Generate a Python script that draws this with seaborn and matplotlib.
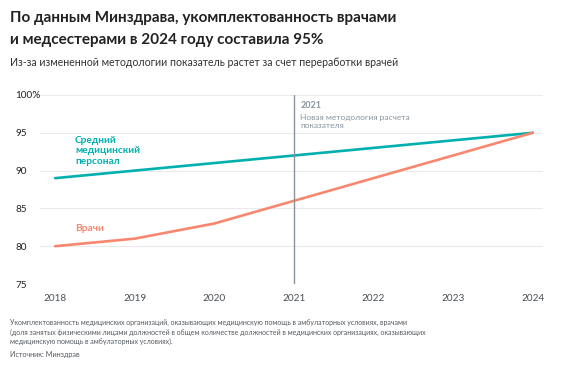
import pandas as pd
import matplotlib.pyplot as plt
import seaborn as sns

years = [2018, 2019, 2020, 2021, 2022, 2023, 2024]
nurses = [89, 90, 91, 92, 93, 94, 95]
doctors = [80, 81, 83, 86, 89, 92, 95]
y_ticks = [75, 80, 85, 90, 95, 100]
y_labels = ["75", "80", "85", "90", "95", "100%"]

df = pd.DataFrame({"year": years * 2,
                   "value": nurses + doctors,
                   "group": ["nurses"] * len(years) + ["doctors"] * len(years)})

teal = "#00b0ae"
salmon = "#f8876f"
grey = "#8a939b"

sns.set_theme(style="white")
plt.rcParams["font.family"] = ["Lato", "DejaVu Sans"]

fig = plt.figure(figsize=(5.85, 3.73), dpi=100)
ax = fig.add_axes([40 / 585, 1 - 284 / 373, 503 / 585, 189 / 373])

sns.lineplot(data=df, x="year", y="value", hue="group",
             palette={"nurses": teal, "doctors": salmon},
             linewidth=1.9, legend=False, ax=ax)

ax.set_xlim(2017.81, 2024.13)
ax.set_ylim(75, 100)
ax.set_yticks(y_ticks)
ax.set_yticklabels(y_labels)
ax.set_xticks(years)
ax.set_xticklabels([str(y) for y in years])
for t in y_ticks:
    ax.axhline(t, color="#e8eaec", linewidth=0.8, zorder=0)
for s in ax.spines.values():
    s.set_visible(False)
ax.tick_params(axis="x", length=3, color="#c8ccd0", width=0.6, labelsize=7.2, labelcolor="#4a5056", pad=4)
ax.tick_params(axis="y", length=0, labelsize=7.2, labelcolor="#222222", pad=18)
for lbl in ax.get_yticklabels():
    lbl.set_horizontalalignment("left")
ax.set_xlabel("")
ax.set_ylabel("")

ax.axvline(2021, color=grey, linewidth=1.0, ymin=0, ymax=1)
ax.text(2021.08, 98.6, "2021", fontsize=6.5, fontweight="bold", color=grey, va="center")
ax.text(2021.08, 96.5, "Новая методология расчета\nпоказателя", fontsize=6.0,
        color=grey, va="center", linespacing=1.15)

ax.text(2018.25, 92.6, "Средний\nмедицинский\nперсонал", fontsize=7.3, fontweight="bold",
        color=teal, va="center", linespacing=1.2)
ax.text(2018.25, 82.4, "Врачи", fontsize=7.3, fontweight="bold", color=salmon, va="center")

fig.text(10 / 585, 1 - 18 / 373, "По данным Минздрава, укомплектованность врачами",
         fontsize=11.0, fontweight="bold", color="#222222", va="center")
fig.text(10 / 585, 1 - 40 / 373, "и медсестерами в 2024 году составила 95%",
         fontsize=11.0, fontweight="bold", color="#222222", va="center")
fig.text(10 / 585, 1 - 62 / 373,
         "Из-за измененной методологии показатель растет за счет переработки врачей",
         fontsize=7.6, color="#333333", va="center")

fig.text(10 / 585, 1 - 332 / 373,
         "Укомплектованность медицинских организаций, оказывающих медицинскую помощь в амбулаторных условиях, врачами\n"
         "(доля занятых физическими лицами должностей в общем количестве должностей в медицинских организациях, оказывающих\n"
         "медицинскую помощь в амбулаторных условиях).",
         fontsize=5.0, color="#555b61", va="center", linespacing=1.35)
fig.text(10 / 585, 1 - 355 / 373, "Источник: Минздрав", fontsize=5.2, color="#555b61", va="center")

fig.savefig("out.png", dpi=100)
